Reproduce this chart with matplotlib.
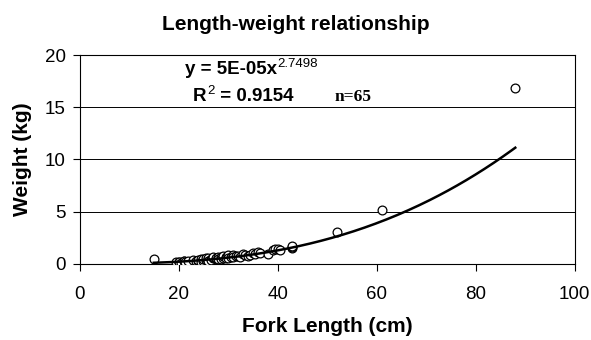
import numpy as np
import matplotlib.pyplot as plt
from matplotlib.transforms import offset_copy

plt.rcParams['font.family'] = ['Liberation Sans', 'DejaVu Sans']

#---DATA
fork_length = [15, 19.5, 20, 20, 20.5, 21, 21, 21.2, 22, 23, 23.5, 24, 24, 24.5, 24.5,
               25, 25, 25.5, 25.5, 26, 26, 26, 26.5, 26.5, 27, 27, 27.5, 27.5,
               28, 28, 28, 28.5, 28.5, 29, 29, 29.5, 29.5, 30, 30, 30, 30.5,
               31, 31, 31.5, 32, 32.5, 33, 33.5, 34, 34.5, 35, 35.5, 36, 36.5,
               38, 39, 39.5, 40, 40.5, 43, 43, 43, 52, 61, 88]
weight = [0.45, 0.12, 0.15, 0.2, 0.1, 0.25, 0.3, 0.2, 0.25, 0.35, 0.3, 0.25, 0.35, 0.4, 0.2,
          0.3, 0.45, 0.35, 0.5, 0.4, 0.55, 0.3, 0.45, 0.35, 0.5, 0.6, 0.45, 0.55,
          0.5, 0.65, 0.4, 0.6, 0.45, 0.55, 0.7, 0.6, 0.5, 0.75, 0.85, 0.55, 0.65,
          0.8, 0.6, 0.7, 0.75, 0.65, 0.9, 0.8, 0.7, 0.85, 1.0, 0.95, 1.1, 1.05,
          0.9, 1.35, 1.4, 1.45, 1.35, 1.5, 1.6, 1.7, 3.05, 5.1, 16.8]

# power trend line as printed on the chart
coef_a = 5e-05
coef_b = 2.7498
r_squared = 0.9154
n_fish = 65

#---FIT CURVE
x_fit = np.linspace(min(fork_length), max(fork_length), 200)
y_fit = coef_a * x_fit ** coef_b

#---PLOT
fig = plt.figure(figsize=(5.91, 3.40), dpi=100)
ax = fig.add_axes([0.1346, 0.2245, 0.8378, 0.6137])

ax.scatter(fork_length, weight, s=40, facecolors='white', edgecolors='black',
           linewidths=0.9, zorder=3)
ax.plot(x_fit, y_fit, color='black', lw=1.8, zorder=4)

ax.set_xlim(0, 100)
ax.set_ylim(0, 20)
ax.set_xticks(np.arange(0, 101, 20))
ax.set_yticks(np.arange(0, 21, 5))
ax.yaxis.grid(True, color='black', lw=0.7)
ax.set_axisbelow(True)
for s in ax.spines.values():
    s.set_linewidth(0.8)
ax.tick_params(direction='out', length=5, width=0.8, labelsize=13.5)
ax.tick_params(axis='x', pad=11)
ax.tick_params(axis='y', pad=5)

ax.set_xlabel('Fork Length (cm)', fontsize=15, fontweight='bold', labelpad=10)
ax.set_ylabel('Weight (kg)', fontsize=15, fontweight='bold', labelpad=9)
fig.text(0.5, 1 - 24 / 340, 'Length-weight relationship', ha='center', va='center',
         fontsize=15, fontweight='bold')

#---EQUATION TEXT (superscripts placed after the base text)
t1 = ax.text(21.3, 18.2, 'y = 5E-05x', fontsize=13.5, fontweight='bold',
             va='baseline', ha='left')
t2 = ax.text(22.9, 15.6, 'R', fontsize=13.5, fontweight='bold',
             va='baseline', ha='left')
fig.canvas.draw()
r = fig.canvas.get_renderer()
for t, sup, after in [(t1, '%.4f' % coef_b, None), (t2, '2', ' = %.4f' % r_squared)]:
    bb = t.get_window_extent(r)
    x0 = ax.transData.inverted().transform((bb.x1, 0))[0]
    y0 = t.get_position()[1]
    ts = ax.text(x0, y0, sup, fontsize=9.5, va='baseline', ha='left',
                 transform=offset_copy(ax.transData, fig=fig, x=0.5, y=5, units='points'))
    if after:
        bb2 = ts.get_window_extent(r)
        x1 = ax.transData.inverted().transform((bb2.x1, 0))[0]
        ax.text(x1, y0, after, fontsize=13.5, fontweight='bold', va='baseline', ha='left')

ax.text(51.5, 15.6, 'n=%d' % n_fish, fontsize=12.5, fontweight='bold',
        family=['Liberation Serif', 'DejaVu Serif'], va='baseline', ha='left')

fig.savefig('out.png', dpi=100)
